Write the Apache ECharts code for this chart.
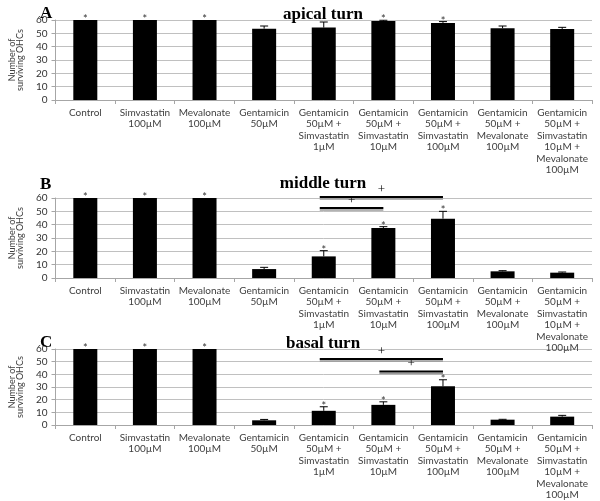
<!DOCTYPE html>
<html>
<head>
<meta charset="utf-8">
<script src="https://cdn.jsdelivr.net/npm/echarts@6/dist/echarts.min.js"></script>
<style>
  html, body { margin: 0; padding: 0; background: #fff; }
  #chart { width: 600px; height: 501px; }
</style>
</head>
<body>
<div id="chart"></div>
<script>
  // categories (x axis labels)
  const categories = [
    'Control',
    'Simvastatin\n100µM',
    'Mevalonate\n100µM',
    'Gentamicin\n50µM',
    'Gentamicin\n50µM +\nSimvastatin\n1µM',
    'Gentamicin\n50µM +\nSimvastatin\n10µM',
    'Gentamicin\n50µM +\nSimvastatin\n100µM',
    'Gentamicin\n50µM +\nMevalonate\n100µM',
    'Gentamicin\n50µM +\nSimvastatin\n10µM +\nMevalonate\n100µM'
  ];
  const panelTitles = ['apical turn', 'middle turn', 'basal turn'];
  const panelLetters = ['A', 'B', 'C'];
  const yTicks = [0, 10, 20, 30, 40, 50, 60];

  // mean values
  const apicalValues = [60, 60, 60, 53.5, 54.3, 59.3, 57.8, 53.8, 53.3];
  const middleValues = [60, 60, 60, 6.7, 16.2, 37.5, 44.5, 5, 4];
  const basalValues  = [60, 60, 60, 3.7, 11.2, 15.9, 30.5, 4.2, 6.6];
  // error (upper whisker only)
  const apicalErrors = [0, 0, 0, 2, 4.2, 0.5, 1, 1.7, 1.2];
  const middleErrors = [0, 0, 0, 1.3, 4.3, 1, 5.5, 0.5, 0.5];
  const basalErrors  = [0, 0, 0, 0.7, 3.2, 2.4, 5.2, 0.3, 1];
  // asterisks (1 = significant)
  const apicalStars = [1, 1, 1, 0, 0, 1, 1, 0, 0];
  const middleStars = [1, 1, 1, 0, 1, 1, 1, 0, 0];
  const basalStars  = [1, 1, 1, 0, 1, 1, 1, 0, 0];
  // "+" comparison lines: [from category, to category, y value]
  const middleBrackets = [[4, 6, 60.7], [4, 5, 52.5]];
  const basalBrackets  = [[4, 6, 52.2], [5, 6, 42.3]];

  const panels = [
    { values: apicalValues, errors: apicalErrors, stars: apicalStars, brackets: [] },
    { values: middleValues, errors: middleErrors, stars: middleStars, brackets: middleBrackets },
    { values: basalValues,  errors: basalErrors,  stars: basalStars,  brackets: basalBrackets }
  ];

  const grids = [
    { left: 52, right: 8, top: 20, height: 80 },
    { left: 52, right: 8, top: 198, height: 80 },
    { left: 52, right: 8, top: 349, height: 77 }
  ];

  const labelFont = 'Lato, "Liberation Sans", sans-serif';
  const serif = '"Liberation Serif", "DejaVu Serif", serif';

  const myEcharts = echarts.init(document.getElementById('chart'), null, { renderer: 'canvas' });

  let titles = [];
  let xAxes = [];
  let yAxes = [];
  let series = [];

  const titleTops = [1, 170, 330];
  const letterTops = [0, 171, 329];
  panels.forEach((p, i) => {
    titles.push({
      text: panelTitles[i], left: 318, top: titleTops[i], textAlign: 'center',
      textStyle: { fontFamily: serif, fontWeight: 'bold', fontSize: 17, color: '#000' }
    });
    titles.push({
      text: panelLetters[i], left: 35, top: letterTops[i],
      textStyle: { fontFamily: serif, fontWeight: 'bold', fontSize: 17, color: '#000' }
    });

    xAxes.push({
      type: 'category', gridIndex: i, data: categories,
      boundaryGap: true,
      axisLine: { lineStyle: { color: '#a6a6a6' } },
      axisTick: { show: true, length: 4, lineStyle: { color: '#a6a6a6' } },
      axisLabel: {
        interval: 0, margin: 7, color: '#404040', fontSize: 10,
        fontFamily: labelFont, lineHeight: 11.5
      }
    });
    yAxes.push({
      type: 'value', gridIndex: i, min: yTicks[0], max: yTicks[yTicks.length - 1], interval: 10,
      name: 'Number of\nsurviving OHCs', nameLocation: 'middle', nameGap: 27,
      nameTextStyle: { color: '#404040', fontSize: 9, fontFamily: labelFont, lineHeight: 8 },
      axisLine: { show: true, lineStyle: { color: '#a6a6a6' } },
      axisTick: { show: true, length: 4, lineStyle: { color: '#a6a6a6' } },
      axisLabel: { color: '#333', fontSize: 10, fontFamily: labelFont, margin: 8 },
      splitLine: { show: true, lineStyle: { color: '#c0c0c0' } }
    });

    series.push({
      type: 'bar', xAxisIndex: i, yAxisIndex: i,
      data: p.values, barWidth: 24,
      itemStyle: { color: '#000' },
      silent: true
    });

    // error bars + asterisks
    series.push({
      type: 'custom', xAxisIndex: i, yAxisIndex: i,
      data: p.values.map((v, k) => [k, v, p.errors[k], p.stars[k]]),
      encode: { x: 0, y: 1 },
      clip: false, silent: true, z: 5,
      renderItem: function (params, api) {
        const x = api.value(0), v = api.value(1), e = api.value(2), s = api.value(3);
        const p0 = api.coord([x, v]);
        const p1 = api.coord([x, v + e]);
        let children = [];
        if (e > 0) {
          children.push({ type: 'line', shape: { x1: p0[0], y1: p0[1], x2: p1[0], y2: p1[1] },
            style: { stroke: '#000', lineWidth: 1 } });
          children.push({ type: 'line', shape: { x1: p1[0] - 4, y1: p1[1], x2: p1[0] + 4, y2: p1[1] },
            style: { stroke: '#000', lineWidth: 1 } });
        }
        if (s) {
          children.push({ type: 'text', x: p1[0], y: p1[1] + 5,
            style: { text: '*', fill: '#333', fontSize: 11, fontFamily: labelFont,
              align: 'center', verticalAlign: 'bottom' } });
        }
        return { type: 'group', children: children };
      }
    });

    if (p.brackets.length) {
      series.push({
        type: 'custom', xAxisIndex: i, yAxisIndex: i,
        data: p.brackets,
        encode: { x: [0, 1], y: 2 },
        clip: false, silent: true, z: 6,
        renderItem: function (params, api) {
          const a = api.coord([api.value(0), api.value(2)]);
          const b = api.coord([api.value(1), api.value(2)]);
          const x1 = a[0] - 4, x2 = b[0];
          return {
            type: 'group',
            children: [
              { type: 'line', shape: { x1: x1, y1: a[1] + 2, x2: x2, y2: a[1] + 2 },
                style: { stroke: '#999', lineWidth: 1.5 } },
              { type: 'line', shape: { x1: x1, y1: a[1], x2: x2, y2: a[1] },
                style: { stroke: '#000', lineWidth: 2 } },
              { type: 'text', x: (x1 + x2) / 2, y: a[1] - 1,
                style: { text: '+', fill: '#000', fontSize: 13, fontFamily: serif,
                  align: 'center', verticalAlign: 'bottom' } }
            ]
          };
        }
      });
    }
  });

  let option = {
    backgroundColor: '#fff',
    animation: false,
    title: titles,
    grid: grids,
    xAxis: xAxes,
    yAxis: yAxes,
    series: series
  };
  myEcharts.setOption(option);
</script>
</body>
</html>
